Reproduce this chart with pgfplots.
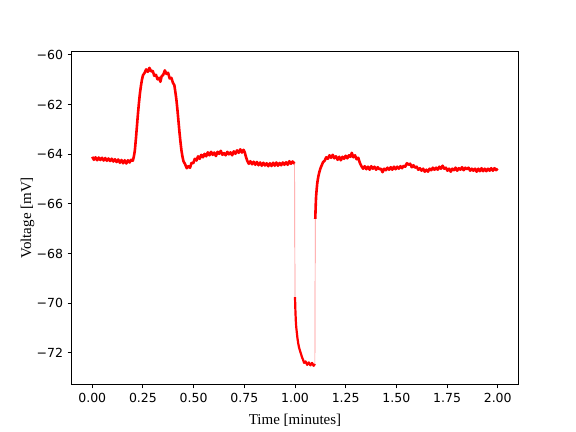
\documentclass[border=0pt]{standalone}
\usepackage{fontspec}
\setmainfont{DejaVu Sans}
\newfontfamily\labelfont{Liberation Serif}
\usepackage{pgfplots}
\pgfplotsset{compat=1.18}

\begin{document}
\begin{tikzpicture}
% matplotlib canvas 576x432 px, axes box from (72,52) to (518,384)
\path[use as bounding box] (-72bp,-48bp) rectangle (504bp,384bp);
\begin{axis}[
  at={(0,0)}, anchor=south west,
  scale only axis,
  width=446bp, height=332bp,
  xmin=-0.1, xmax=2.1,
  ymin=-73.25, ymax=-59.88,
  xtick={0,0.25,0.5,0.75,1,1.25,1.5,1.75,2},
  xticklabels={0.00,0.25,0.50,0.75,1.00,1.25,1.50,1.75,2.00},
  ytick={-72,-70,-68,-66,-64,-62,-60},
  yticklabels={−72,−70,−68,−66,−64,−62,−60},
  tick align=outside, tick pos=left,
  major tick length=4.4bp,
  every tick/.style={black, line width=1bp},
  axis line style={line width=1bp},
  ticklabel style={font=\fontsize{12.5bp}{15bp}\selectfont},
  xticklabel style={inner sep=0pt, yshift=-4.4bp},
  yticklabel style={inner sep=0pt, xshift=-4.4bp},
  xlabel={Time [minutes]},
  ylabel={Voltage [mV]},
  label style={font=\labelfont\fontsize{15bp}{18bp}\selectfont},
  xlabel style={at={(axis description cs:0.5,-0.1205)}, anchor=base},
  ylabel style={at={(axis description cs:-0.0919,0.5)}, anchor=base},
  clip=false,
]

% before the first jump
\addplot[red, line width=2.6bp, line join=round] coordinates {
(0.000,-64.10) (0.008,-64.22) (0.016,-64.12) (0.024,-64.24) (0.032,-64.13)
(0.040,-64.23) (0.048,-64.14) (0.056,-64.25) (0.064,-64.15) (0.072,-64.26)
(0.080,-64.17) (0.088,-64.27) (0.096,-64.18) (0.104,-64.29) (0.112,-64.20)
(0.120,-64.31) (0.128,-64.21) (0.136,-64.34) (0.144,-64.23) (0.152,-64.36)
(0.160,-64.24) (0.168,-64.37) (0.176,-64.24) (0.184,-64.33) (0.192,-64.22)
(0.200,-64.26) (0.205,-64.10) (0.210,-63.85) (0.215,-63.40) (0.220,-62.90)
(0.225,-62.40) (0.230,-61.95) (0.235,-61.55) (0.240,-61.25) (0.245,-61.00)
(0.250,-60.82) (0.258,-60.72) (0.266,-60.58) (0.274,-60.68) (0.282,-60.52)
(0.290,-60.66) (0.298,-60.64) (0.306,-60.84) (0.314,-60.80) (0.322,-60.98)
(0.330,-60.92) (0.336,-61.08) (0.342,-60.86) (0.350,-60.80) (0.358,-60.62)
(0.366,-60.76) (0.374,-60.72) (0.382,-60.95) (0.390,-60.92) (0.398,-61.12)
(0.405,-61.22) (0.410,-61.50) (0.415,-61.80) (0.420,-62.20) (0.425,-62.65)
(0.430,-63.10) (0.435,-63.50) (0.440,-63.85) (0.445,-64.10) (0.450,-64.28)
(0.458,-64.40) (0.466,-64.56) (0.474,-64.48) (0.482,-64.54) (0.490,-64.34)
(0.498,-64.36) (0.506,-64.18) (0.514,-64.25) (0.522,-64.08) (0.530,-64.18)
(0.538,-64.02) (0.546,-64.12) (0.554,-63.98) (0.562,-64.08) (0.570,-63.92)
(0.578,-64.04) (0.586,-63.90) (0.594,-64.02) (0.602,-63.93) (0.610,-64.07)
(0.618,-63.90) (0.626,-63.98) (0.634,-63.86) (0.642,-64.02) (0.650,-63.95)
(0.658,-64.04) (0.666,-63.90) (0.674,-64.00) (0.682,-63.92) (0.690,-64.04)
(0.698,-63.88) (0.706,-63.98) (0.714,-63.84) (0.722,-63.94) (0.730,-63.80)
(0.738,-63.93) (0.746,-63.82) (0.752,-63.92) (0.758,-64.10) (0.764,-64.25)
(0.772,-64.38) (0.780,-64.28) (0.788,-64.40) (0.796,-64.30) (0.804,-64.42)
(0.812,-64.31) (0.820,-64.44) (0.828,-64.33) (0.836,-64.46) (0.844,-64.34)
(0.852,-64.45) (0.860,-64.36) (0.868,-64.48) (0.876,-64.36) (0.884,-64.47)
(0.892,-64.34) (0.900,-64.46) (0.908,-64.33) (0.916,-64.46) (0.924,-64.35)
(0.932,-64.44) (0.940,-64.33) (0.948,-64.42) (0.956,-64.32) (0.964,-64.42)
(0.972,-64.28) (0.980,-64.38) (0.988,-64.29) (0.998,-64.38)
};

% jump down at 1.00
\addplot[red!45, line width=0.7bp] coordinates {(0.998,-64.38) (1.000,-69.75)};

% hyperpolarised part
\addplot[red, line width=2.2bp, line join=round] coordinates {
(1.000,-69.75) (1.002,-70.30) (1.004,-70.70) (1.006,-70.95) (1.008,-71.10)
(1.012,-71.40) (1.016,-71.62) (1.020,-71.78) (1.025,-71.92) (1.030,-72.05)
(1.035,-72.18) (1.040,-72.28) (1.045,-72.40) (1.052,-72.34) (1.060,-72.48)
(1.068,-72.38) (1.076,-72.50) (1.084,-72.40) (1.092,-72.52) (1.098,-72.44)
};

% jump up at 1.10
\addplot[red!45, line width=0.7bp] coordinates {(1.098,-72.45) (1.100,-66.60)};

% recovery and tail
\addplot[red, line width=2.6bp, line join=round] coordinates {
(1.100,-66.60) (1.102,-66.10) (1.104,-65.70) (1.107,-65.40) (1.110,-65.15)
(1.115,-64.90) (1.120,-64.72) (1.125,-64.58) (1.130,-64.48) (1.138,-64.32)
(1.146,-64.26) (1.154,-64.12) (1.162,-64.18) (1.170,-64.04) (1.178,-64.14)
(1.186,-64.02) (1.194,-64.16) (1.202,-64.08) (1.210,-64.22) (1.218,-64.10)
(1.226,-64.24) (1.234,-64.10) (1.242,-64.18) (1.250,-64.06) (1.258,-64.16)
(1.266,-64.04) (1.274,-64.10) (1.280,-63.94) (1.288,-64.12) (1.296,-64.04)
(1.304,-64.20) (1.312,-64.14) (1.320,-64.35) (1.328,-64.48) (1.336,-64.58)
(1.344,-64.48) (1.352,-64.60) (1.360,-64.50) (1.368,-64.62) (1.376,-64.48)
(1.384,-64.58) (1.392,-64.50) (1.400,-64.62) (1.408,-64.52) (1.416,-64.60)
(1.424,-64.58) (1.432,-64.72) (1.440,-64.58) (1.448,-64.64) (1.456,-64.54)
(1.464,-64.62) (1.472,-64.52) (1.480,-64.62) (1.488,-64.50) (1.496,-64.60)
(1.504,-64.50) (1.512,-64.58) (1.520,-64.48) (1.528,-64.56) (1.536,-64.46)
(1.544,-64.50) (1.552,-64.36) (1.560,-64.42) (1.568,-64.38) (1.576,-64.52)
(1.584,-64.44) (1.592,-64.54) (1.600,-64.50) (1.608,-64.62) (1.616,-64.56)
(1.624,-64.66) (1.632,-64.58) (1.640,-64.70) (1.648,-64.62) (1.656,-64.70)
(1.664,-64.58) (1.672,-64.64) (1.680,-64.54) (1.688,-64.62) (1.696,-64.54)
(1.704,-64.62) (1.712,-64.50) (1.720,-64.58) (1.728,-64.46) (1.736,-64.58)
(1.744,-64.54) (1.752,-64.66) (1.760,-64.58) (1.768,-64.70) (1.776,-64.58)
(1.784,-64.64) (1.792,-64.54) (1.800,-64.66) (1.808,-64.56) (1.816,-64.62)
(1.824,-64.52) (1.832,-64.64) (1.840,-64.54) (1.848,-64.60) (1.856,-64.54)
(1.864,-64.66) (1.872,-64.58) (1.880,-64.66) (1.888,-64.58) (1.896,-64.70)
(1.904,-64.58) (1.912,-64.68) (1.920,-64.56) (1.928,-64.68) (1.936,-64.58)
(1.944,-64.68) (1.952,-64.58) (1.960,-64.66) (1.968,-64.56) (1.976,-64.66)
(1.984,-64.56) (1.992,-64.64) (2.000,-64.58)
};

\end{axis}
\end{tikzpicture}
\end{document}
